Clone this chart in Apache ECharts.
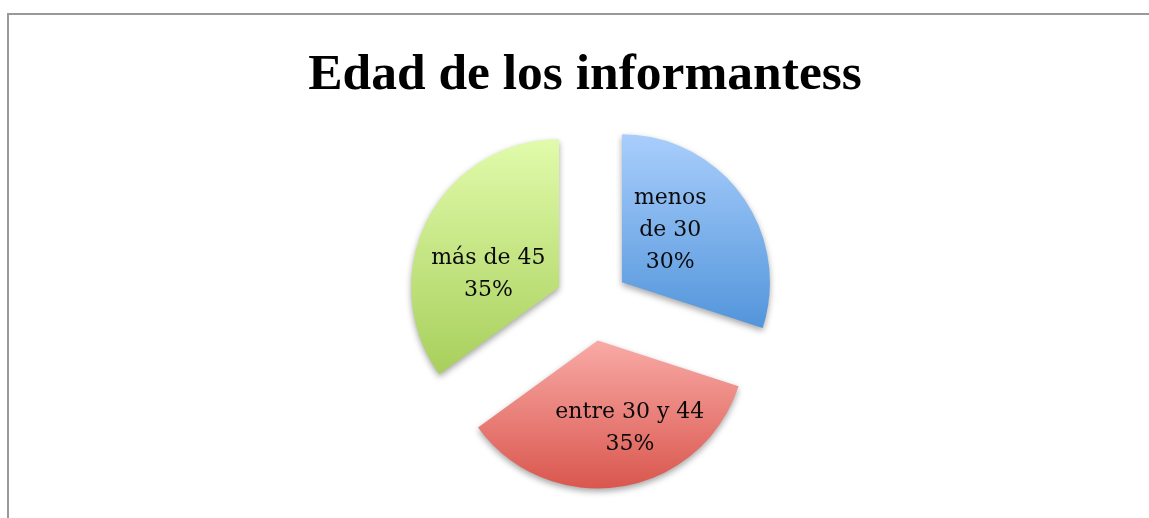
<!DOCTYPE html>
<html>
<head>
<meta charset="utf-8">
<style>
  html, body { margin: 0; padding: 0; background: #fff; }
  #chart { width: 1149px; height: 518px; }
</style>
<script src="https://cdn.jsdelivr.net/npm/echarts@6/dist/echarts.min.js"></script>
</head>
<body>
<div id="chart"></div>
<script>
const titleText = 'Edad de los informantess';
const categories = ['menos de 30', 'entre 30 y 44', 'más de 45'];
const values = [30, 35, 35];
const labelTexts = ['menos\nde 30\n30%', 'entre 30 y 44\n35%', 'más de 45\n35%'];

// vertical gradient per slice: [top, bottom]
const sliceColors = [
  ['#a9cefc', '#5295db'],
  ['#f9aaa6', '#d9574e'],
  ['#e1fbab', '#a8cf5c']
];
// small nudges so labels sit where the original has them
const labelNudge = [[-14, -7], [20, 12], [-2, 22]];

const chart = echarts.init(document.getElementById('chart'));

chart.setOption({
  animation: false,
  title: {
    text: titleText,
    left: 580,
    top: 45,
    textAlign: 'center',
    textStyle: {
      fontFamily: 'Liberation Serif',
      fontWeight: 'bold',
      fontSize: 51.5,
      color: '#000'
    }
  },
  graphic: [{
    type: 'polyline',
    shape: { points: [[8, 518], [8, 14], [1149, 14]] },
    style: { stroke: '#999', lineWidth: 2, fill: null }
  }],
  series: [{
    type: 'pie',
    center: [592, 304],
    radius: [0, 148],
    startAngle: 90,
    clockwise: true,
    selectedMode: 'multiple',
    selectedOffset: 37,
    emphasis: { disabled: true },
    itemStyle: {
      shadowBlur: 6,
      shadowOffsetY: 3,
      shadowColor: 'rgba(0,0,0,0.35)'
    },
    label: {
      position: 'inside',
      fontFamily: 'DejaVu Serif',
      fontSize: 22,
      lineHeight: 32,
      color: '#0a0a0a',
      align: 'center'
    },
    labelLayout: function (p) {
      const n = labelNudge[p.dataIndex];
      return { dx: n[0], dy: n[1] };
    },
    data: categories.map(function (name, i) {
      return {
        name: name,
        value: values[i],
        selected: true,
        label: { formatter: labelTexts[i] },
        itemStyle: {
          color: new echarts.graphic.LinearGradient(0, 0, 0, 1, [
            { offset: 0, color: sliceColors[i][0] },
            { offset: 1, color: sliceColors[i][1] }
          ])
        }
      };
    })
  }]
});
</script>
</body>
</html>
